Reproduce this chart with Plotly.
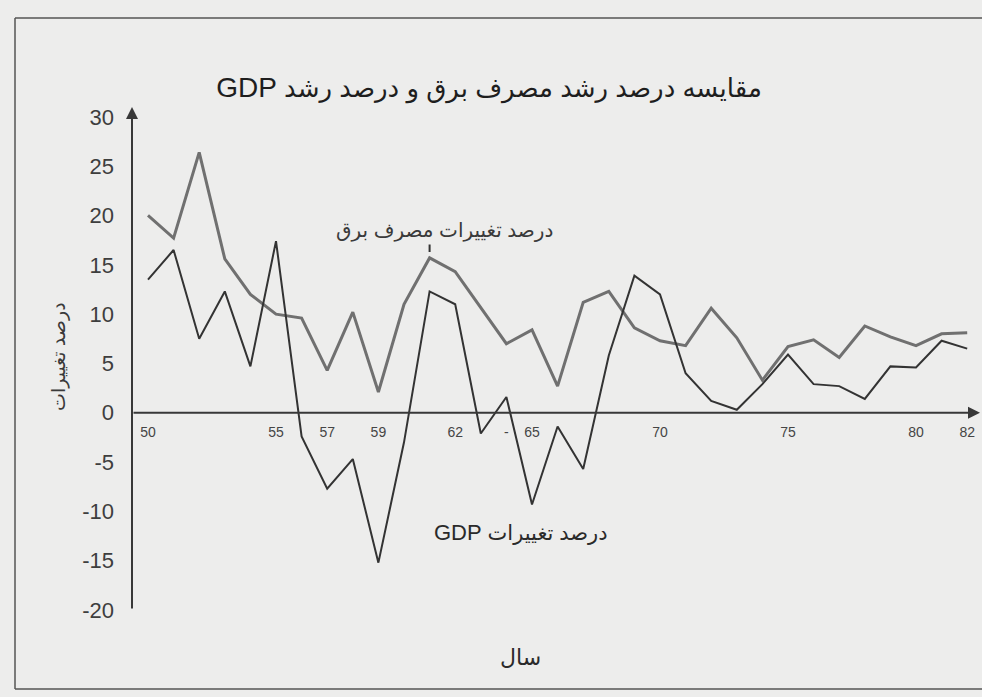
import plotly.graph_objects as go

# Annual growth rates (%) by Iranian calendar year (13xx shown as 50..82)
years = list(range(50, 83))
elec_growth = [20.0, 17.7, 26.4, 15.6, 12.0, 10.0, 9.6, 4.3, 10.2, 2.1, 11.0,
               15.7, 14.3, 10.6, 7.0, 8.4, 2.7, 11.2, 12.3, 8.6, 7.3, 6.8,
               10.6, 7.6, 3.3, 6.7, 7.4, 5.6, 8.8, 7.7, 6.8, 8.0, 8.1]
gdp_growth = [13.5, 16.5, 7.5, 12.3, 4.7, 17.4, -2.4, -7.7, -4.7, -15.2, -3.0,
              12.3, 11.0, -2.1, 1.6, -9.3, -1.4, -5.7, 5.8, 13.9, 12.0, 4.0,
              1.2, 0.3, 2.9, 5.9, 2.9, 2.7, 1.4, 4.7, 4.6, 7.3, 6.5]

x_tick_vals = [50, 55, 57, 59, 62, 64, 65, 70, 75, 80, 82]
x_tick_text = ["50", "55", "57", "59", "62", "-", "65", "70", "75", "80", "82"]
y_tick_vals = [-20, -15, -10, -5, 0, 5, 10, 15, 20, 25, 30]
y_tick_text = ["-20", "-15", "-10", "-5", "0", "5", "10", "15", "20", "25", "30"]

title_text = "<span style='font-size:28px'>GDP</span> مقایسه درصد رشد مصرف برق و درصد رشد"
elec_label = "درصد تغییرات مصرف برق"
gdp_label = "<span style='font-size:22px'>GDP</span> درصد تغییرات"
y_title = "درصد تغییرات"
x_title = "سال"

FONT = "Liberation Sans, Arial, DejaVu Sans, sans-serif"
BG = "#ededec"
AXIS = "#383838"

W, H = 982, 697
L, R, T, B = 132, 2, 107, 87
PW, PH = W - L - R, H - T - B
X_RANGE = [49.375, 82.5]
Y_RANGE = [-20, 31]


def px_x(p):
    return (p - L) / PW


def px_y(p):
    return (H - B - p) / PH


fig = go.Figure()
fig.add_trace(go.Scatter(x=years, y=elec_growth, mode="lines",
                         line=dict(color="#707070", width=3), name="برق"))
fig.add_trace(go.Scatter(x=years, y=gdp_growth, mode="lines",
                         line=dict(color="#333333", width=2), name="GDP"))

annotations = [
    # vertical axis with arrow
    dict(x=X_RANGE[0], y=Y_RANGE[1], ax=X_RANGE[0], ay=Y_RANGE[0],
         xref="x", yref="y", axref="x", ayref="y", text="", showarrow=True,
         arrowhead=2, arrowsize=1.2, arrowwidth=2, arrowcolor=AXIS),
    # horizontal axis with arrow
    dict(x=X_RANGE[1], y=0, ax=X_RANGE[0], ay=0,
         xref="x", yref="y", axref="x", ayref="y", text="", showarrow=True,
         arrowhead=2, arrowsize=1.2, arrowwidth=2, arrowcolor=AXIS),
    # series labels
    dict(x=61, y=elec_growth[years.index(61)], xref="x", yref="y",
         text=elec_label, showarrow=False, xshift=15, yshift=27,
         font=dict(family=FONT, size=20, color="#3a3a3a")),
    dict(x=61, y=elec_growth[years.index(61)], xref="x", yref="y",
         ax=0, ay=-15, text="", showarrow=True, arrowhead=0, standoff=6,
         arrowwidth=2, arrowcolor="#333333"),
    dict(x=px_x(521), y=px_y(547), xref="paper", yref="paper",
         text=gdp_label, showarrow=False,
         font=dict(family=FONT, size=21, color="#2a2a2a")),
    # axis titles
    dict(x=px_x(520), y=px_y(672), xref="paper", yref="paper",
         text=x_title, showarrow=False,
         font=dict(family=FONT, size=22, color="#2a2a2a")),
    dict(x=px_x(46), y=px_y(357), xref="paper", yref="paper",
         text=y_title, textangle=-90, showarrow=False,
         font=dict(family=FONT, size=19, color="#3a3a3a")),
]

fig.update_layout(
    width=W, height=H,
    margin=dict(l=L, r=R, t=T, b=B, pad=0),
    paper_bgcolor=BG, plot_bgcolor=BG,
    showlegend=False,
    title=dict(text=title_text, x=489 / W, y=1 - 88 / H, xanchor="center",
               yanchor="middle", font=dict(family=FONT, size=26, color="#1e1e1e")),
    xaxis=dict(range=X_RANGE, showgrid=False, zeroline=False, showline=False,
               tickmode="array", tickvals=x_tick_vals, ticktext=x_tick_text,
               anchor="free", position=(0 - Y_RANGE[0]) / (Y_RANGE[1] - Y_RANGE[0]),
               ticks="", ticklabelstandoff=9,
               tickfont=dict(family=FONT, size=14, color="#454545")),
    yaxis=dict(range=Y_RANGE, showgrid=False, zeroline=False, showline=False,
               tickmode="array", tickvals=y_tick_vals, ticktext=y_tick_text,
               ticks="", ticklabelstandoff=17,
               tickfont=dict(family=FONT, size=22, color="#3e3e3e")),
    annotations=annotations,
    shapes=[
        # page frame around the chart
        dict(type="line", xref="paper", yref="paper",
             x0=px_x(15), y0=px_y(18), x1=px_x(990), y1=px_y(18),
             line=dict(color="#555555", width=1.5)),
        dict(type="line", xref="paper", yref="paper",
             x0=px_x(15), y0=px_y(18), x1=px_x(15), y1=px_y(689),
             line=dict(color="#555555", width=1.5)),
        dict(type="line", xref="paper", yref="paper",
             x0=px_x(15), y0=px_y(689), x1=px_x(990), y1=px_y(689),
             line=dict(color="#555555", width=1.5)),
    ],
)

fig.write_html("out.html")
